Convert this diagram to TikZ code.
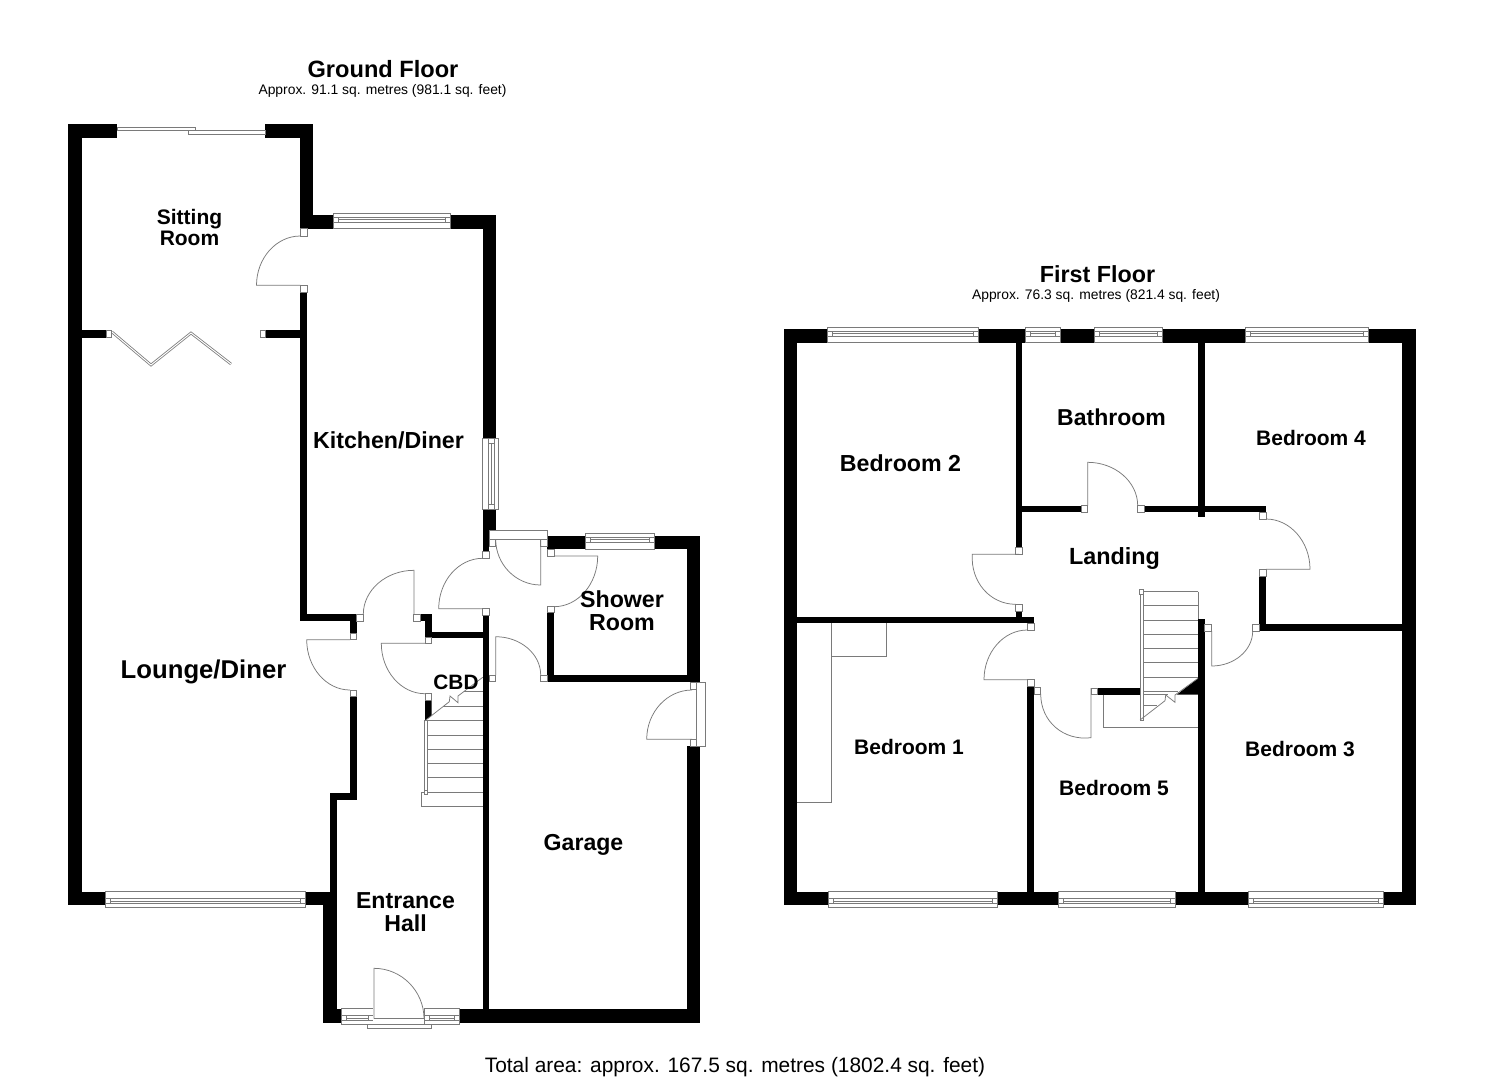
\documentclass[tikz,border=0pt]{standalone}
\usepackage{fontspec}
\setmainfont{Liberation Sans}
\usetikzlibrary{calc}
\definecolor{fine}{HTML}{7A7A7A}
\tikzset{
  fineline/.style={draw=fine,line width=0.75pt},
  framebox/.style={fineline,fill=white},
  room/.style={inner sep=0pt,align=center,font=\bfseries\fontsize{#1}{#1}\selectfont},
  plainlabel/.style={inner sep=0pt,font=\fontsize{#1}{#1}\selectfont},
}
% solid wall
\newcommand\wl[4]{\fill[black] (#1,#2) rectangle (#3,#4);}
% door jamb
\newcommand\jb[4]{\draw[framebox] (#1,#2) rectangle (#3,#4);}
% door: hinge c, leaf tip a, arc end b
\newcommand\swing[3]{%
  \coordinate (sw) at ($(#2)+(#3)-(#1)$);
  \draw[fineline] (#1) -- (#2) .. controls ($(#2)!0.55!(sw)$) and ($(#3)!0.55!(sw)$) .. (#3);}
% window in a wall, proud on the outside: top wall
\newcommand\winT[4]{%
  \draw[framebox] (#1,#3) rectangle (#2,#4);
  \draw[fineline] (#1,#3+9) -- (#2,#3+9);
  \draw[fineline] (#1+5,#3+4) rectangle (#2-5,#3+9);
  \draw[fineline] (#1+5,#3+6) -- (#2-5,#3+6);
  \draw[fineline] (#1,#3+4) -- (#2,#3+4);}
% bottom wall
\newcommand\winB[4]{%
  \draw[framebox] (#1,#3) rectangle (#2,#4);
  \draw[fineline] (#1,#4-9) -- (#2,#4-9);
  \draw[fineline] (#1+5,#4-4) rectangle (#2-5,#4-9);
  \draw[fineline] (#1+5,#4-6) -- (#2-5,#4-6);
  \draw[fineline] (#1,#4-4) -- (#2,#4-4);}
\begin{document}
\begin{tikzpicture}[x=1pt,y=-1pt]
\useasboundingbox (0,0) rectangle (1485,1080);
\fill[white] (0,0) rectangle (1485,1080);

%%% GROUND FLOOR walls
\wl{68}{124}{81.7}{905}
\wl{68}{124}{117}{138}
\wl{265}{124}{313}{138}
\wl{300}{124}{313}{228.7}
\wl{300}{215}{333.3}{228.7}
\wl{450.7}{215}{495.7}{228.7}
\wl{482.7}{215}{495.7}{438.3}
\wl{482.7}{509.3}{495.7}{531}
\wl{482.7}{531}{489.3}{551.7}
\wl{300.3}{292}{307}{621}
\wl{265.7}{330}{300.3}{337.7}
\wl{81.7}{330}{106}{337.7}
\wl{300.3}{614.3}{356.7}{621}
\wl{350}{621}{356.7}{633.3}
\wl{350}{696.7}{356.7}{800}
\wl{330}{793.3}{356.7}{800}
\wl{330}{793.3}{336.7}{892}
\wl{323.3}{891.7}{336.7}{1022.7}
\wl{68}{891.7}{105}{905}
\wl{305}{891.7}{336.7}{905}
\wl{323.3}{1008.7}{341.7}{1022.7}
\wl{459.7}{1008.7}{700}{1022.7}
\wl{482.7}{615}{489.3}{1009}
\wl{686.7}{746}{700}{1022.7}
\wl{686.7}{536}{700}{682}
\wl{547.3}{675}{700}{681.7}
\wl{547.3}{612.7}{554}{681.7}
\wl{547.3}{536}{585}{549.3}
\wl{654.3}{536}{700}{549.3}
\wl{420}{614.3}{431.7}{621}
\wl{425}{621}{431.7}{638}
\wl{425}{631.7}{482.7}{638.3}
\fill[black] (425,700) -- (431.7,700) -- (431.7,715.5) -- (425,720.7) -- cycle;

%%% ground floor windows
\winT{333.3}{450.7}{213.3}{228.7}
\winT{585}{654.3}{533.3}{549.3}
\winB{105.3}{305}{891.7}{907}
\winB{341.7}{373.3}{1008.7}{1024}
\winB{424.3}{459.7}{1008.7}{1024}
% kitchen side window
\draw[framebox] (482.7,438.3) rectangle (498.3,509.3);
\draw[fineline] (488.5,438.3) -- (488.5,509.3);
\draw[fineline] (494.5,438.3) -- (494.5,509.3);
\draw[fineline] (488.5,443.3) rectangle (494.5,504.3);
\draw[fineline] (491,443.3) -- (491,504.3);

% sliding doors
\draw[framebox] (117.3,127.3) rectangle (195,130.7);
\draw[framebox] (188.3,130.7) rectangle (265,134.3);

% folding doors
\draw[fine,line width=2.6pt,line join=miter] (112,332) -- (151,365) -- (191,333) -- (231,364);
\draw[white,line width=1pt,line join=miter] (112,332) -- (151,365) -- (191,333) -- (231,364);
\jb{106}{330}{111.7}{337.7}
\jb{260.7}{330}{265.7}{337.7}

% sitting room / kitchen door
\jb{300.3}{228.7}{307}{236}
\jb{300.3}{285.3}{307}{292}
\swing{300.3,285.3}{256.5,285.3}{300.3,236}

% lounge door
\jb{350}{633.3}{356.7}{639.7}
\jb{350}{690}{356.7}{696.7}
\swing{350,639.7}{306.7,639.7}{350,690}
% kitchen door from hall
\jb{356.7}{614.3}{363.3}{621}
\jb{413.5}{614.3}{420}{621}
\swing{414,614.3}{414,570.3}{363.3,614.3}
% cupboard door
\jb{425}{637}{431.7}{643.3}
\jb{425}{693.7}{431.7}{700}
\swing{425,643.3}{381.3,643.3}{425,693.7}
% kitchen to utility door
\jb{482.7}{551.7}{489.3}{558.3}
\jb{482.7}{608.7}{489.3}{615}
\swing{482.7,608.7}{438.7,608.7}{482.7,558.3}
% back door
\draw[framebox] (489.3,530.7) rectangle (547.3,539.3);
\jb{489.3}{539.3}{495.7}{546}
\jb{540.7}{539.3}{547.3}{546}
\swing{540.7,539.3}{540.7,585}{495.7,539.3}
% shower room door
\jb{547.3}{549.3}{554}{556}
\jb{547.3}{606}{554}{612.7}
\swing{554,556}{597.7,556}{554,606.7}
% garage door from hall
\jb{489.3}{675}{495.7}{681.7}
\jb{540.7}{675}{547.3}{681.7}
\swing{495.7,675}{495.7,636.7}{540.7,675}
% garage side door
\draw[framebox] (696.7,682.3) rectangle (705.7,746);
\jb{690}{682.3}{696.7}{689}
\jb{690}{739.3}{696.7}{746}
\swing{692,739.3}{646.7,739.3}{692,690}
% front door
\draw[framebox] (367.3,1024) rectangle (431.3,1028);
\draw[fill=white,draw=none] (373.3,1008) rectangle (424.3,1024);
\draw[fineline] (373.3,1024) -- (424.3,1024);
\swing{374,1018.7}{374,968.3}{424,1018.7}
\draw[fineline] (374,1018.7) -- (424,1018.7);

% ground floor stairs
\foreach \yy in {720.3,735,749,763.3,777.7,792,806.3}{\draw[fineline] (427.3,\yy) -- (482.7,\yy);}
\draw[fineline] (443,706.3) -- (482.7,706.3);
\draw[fineline] (463.5,691.7) -- (482.7,691.7);
\draw[framebox] (424,720.7) rectangle (427.3,793.3);
\draw[framebox] (424,790) rectangle (427.3,794);
\draw[fineline] (421,792) -- (421,806.3) -- (427.3,806.3);
\draw[fineline] (421,792) -- (424,792);
\draw[fineline] (425,720.7) -- (449.3,701.7) -- (450,696) -- (458,702.7) -- (458,696) -- (482.7,677.3);

%%% FIRST FLOOR walls
\wl{783.5}{329.3}{797.3}{905}
\wl{783.5}{329.3}{827.5}{342.7}
\wl{978.5}{329.3}{1025.7}{342.7}
\wl{1060}{329.3}{1094.5}{342.7}
\wl{1162.5}{329.3}{1245.5}{342.7}
\wl{1368}{329.3}{1416}{342.7}
\wl{1402}{329.3}{1416}{905}
\wl{783.5}{891.7}{828.3}{905}
\wl{997.3}{891.7}{1058}{905}
\wl{1175}{891.7}{1248}{905}
\wl{1383}{891.7}{1416}{905}
\wl{1015.7}{342.7}{1022.3}{547.7}
\wl{1022.3}{505.7}{1081}{512.3}
\wl{1144.3}{505.7}{1266}{512.3}
\wl{1198}{342.7}{1204.7}{516.7}
\wl{1259.3}{576}{1266}{631}
\wl{1259.3}{624.3}{1402}{631}
\wl{1198}{619}{1204.7}{892}
\wl{1015.7}{611}{1022.3}{617}
\wl{797.3}{616.7}{1034}{623.3}
\wl{1027.3}{686.3}{1034.3}{892}
\wl{1097.7}{688}{1140}{694.7}
\fill[black] (1176.7,694.7) -- (1198,678.3) -- (1198,694.7) -- cycle;

%%% first floor windows
\winT{827.5}{978.5}{327.3}{342.7}
\winT{1025.7}{1060}{327.3}{342.7}
\winT{1094.5}{1162.5}{327.3}{342.7}
\winT{1245.5}{1368}{327.3}{342.7}
\winB{828.3}{997.3}{891.7}{907}
\winB{1058}{1175}{891.7}{907}
\winB{1248}{1383}{891.7}{907}

%%% first floor doors
% bathroom
\jb{1081}{505.7}{1087.7}{512.3}
\jb{1137.7}{505.7}{1144.3}{512.3}
\swing{1087.7,505.7}{1087.7,462.3}{1137.7,505.7}
% bedroom 4
\jb{1259.3}{512.3}{1266}{519}
\jb{1259.3}{569.3}{1266}{576}
\swing{1266,569.3}{1310,569.3}{1266,519}
% bedroom 3
\jb{1204.7}{624.3}{1211.3}{631}
\jb{1252.7}{624.3}{1259.3}{631}
\swing{1211.7,631}{1211.7,666}{1252.7,631}
% bedroom 2
\jb{1015.7}{547.7}{1022.3}{554.3}
\jb{1015.7}{604.3}{1022.3}{611}
\swing{1019,554.3}{972.3,554.3}{1015.7,604.3}
% bedroom 1
\jb{1027.3}{623.3}{1034}{630}
\jb{1027.3}{679.7}{1034}{686.3}
\swing{1027.3,679.7}{984,679.7}{1027.3,630}
% bedroom 5
\jb{1034.3}{687.3}{1040.7}{694}
\jb{1091}{688}{1097.7}{694.7}
\swing{1091,688}{1091,737.7}{1040.7,694}

%%% first floor stairs
\draw[fineline] (1198,591.7) -- (1198,619);
\foreach \yy in {591.7,605.7,620,634.3,648.7,662.7,677.3}{\draw[fineline] (1143.3,\yy) -- (1198,\yy);}
\draw[fineline] (1143.3,691.3) -- (1178,691.3);
\draw[fineline] (1143.3,705.7) -- (1157,705.7);
\draw[framebox] (1140,591.7) rectangle (1143.3,720);
\draw[framebox] (1139,589) rectangle (1143.3,594);
\draw[fineline] (1140,720) -- (1165,700.7) -- (1165.7,695) -- (1175,702.3) -- (1175,695) -- (1198,678.3);
\draw[fineline] (1143.3,694.7) -- (1168,694.7);
% box beneath the stairs
\draw[fineline] (1103.3,694.7) -- (1103.3,727.3) -- (1198,727.3);
% bedroom 1 fittings
\draw[fineline] (831.7,623.3) -- (831.7,802.7) -- (797.3,802.7);
\draw[fineline] (831.7,656) -- (886.3,656) -- (886.3,623.3);

%%% labels
\node[room=23.6] (tg) at (383,69) {Ground Floor};
\node[plainlabel=13.85] (sg) at (382.5,91) {Approx. 91.1 sq. metres (981.1 sq. feet)};
\node[room=23.3] (tf) at (1097.5,274) {First Floor};
\node[plainlabel=13.85] (sf) at (1096,296) {Approx. 76.3 sq. metres (821.4 sq. feet)};
\node[plainlabel=20.9] (total) at (735,1067) {Total area: approx. 167.5 sq. metres (1802.4 sq. feet)};

\node[room=21] (sitting) at (189.5,227.5) {Sitting\\Room};
\node[room=25.7] (lounge) at (203.5,672) {Lounge/Diner};
\node[room=23.2] (kitchen) at (388.5,440) {Kitchen/Diner};
\node[room=23.2] (shower) at (622,611) {Shower\\Room};
\node[room=20.8] (cbd) at (456,682) {CBD};
\node[room=23.1] (garage) at (583.5,845) {Garage};
\node[room=23.1] (hall) at (405.5,912) {Entrance\\Hall};
\node[room=23.2] (bed2) at (900.5,463) {Bedroom 2};
\node[room=23] (bath) at (1111.5,417.5) {Bathroom};
\node[room=21] (bed4) at (1311,438) {Bedroom 4};
\node[room=23.4] (landing) at (1114.5,558) {Landing};
\node[room=21] (bed1) at (909,747) {Bedroom 1};
\node[room=21] (bed5) at (1114,788) {Bedroom 5};
\node[room=21] (bed3) at (1300,749) {Bedroom 3};
\end{tikzpicture}
\end{document}
